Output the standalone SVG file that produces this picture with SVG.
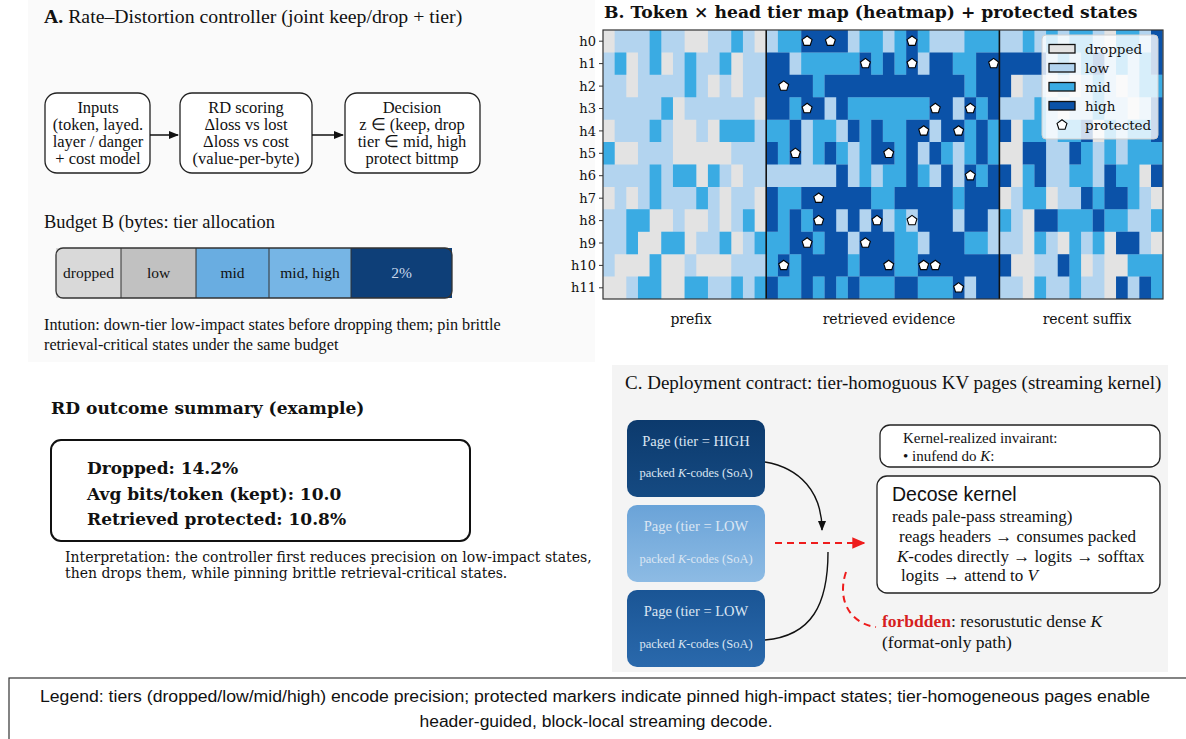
<svg xmlns="http://www.w3.org/2000/svg" xmlns:xlink="http://www.w3.org/1999/xlink" width="1186" height="739" viewBox="0 0 1186 739">
<style>
.serif{font-family:"Liberation Serif","Times New Roman",serif;fill:#111}
.dv{font-family:"DejaVu Serif",serif;fill:#111}
.sans{font-family:"Liberation Sans",Arial,sans-serif;fill:#111}
.box{fill:#fff;stroke:#222;stroke-width:1.3}
.d{fill:#e3e3e3}.l{fill:#b3d4ef}.m{fill:#3aabe3}.h{fill:#0b52a8}
.pg{font-family:"Liberation Serif","Times New Roman",serif;fill:#dbe6f3;text-anchor:middle}
</style>
<defs>
<marker id="ab" viewBox="0 0 10 10" refX="9" refY="5" markerUnits="userSpaceOnUse" markerWidth="10" markerHeight="10" orient="auto"><path d="M0,1 L10,5 L0,9 z" fill="#111"/></marker>
<marker id="ar" viewBox="0 0 10 10" refX="9" refY="5" markerUnits="userSpaceOnUse" markerWidth="13" markerHeight="13" orient="auto"><path d="M0,0.5 L10,5 L0,9.5 z" fill="#ee1c1c"/></marker>
<path id="pent" d="M0,-5.2 L4.95,-1.6 L3.06,4.2 L-3.06,4.2 L-4.95,-1.6 Z" fill="#fff" stroke="#000" stroke-width="1.1"/>
<linearGradient id="gHigh" x1="0" y1="0" x2="0" y2="1"><stop offset="0" stop-color="#0c3a6d"/><stop offset="1" stop-color="#154a82"/></linearGradient>
<linearGradient id="gLight" x1="0" y1="0" x2="0" y2="1"><stop offset="0" stop-color="#6aa3d8"/><stop offset="1" stop-color="#8dbbe4"/></linearGradient>
<linearGradient id="gDark" x1="0" y1="0" x2="0" y2="1"><stop offset="0" stop-color="#1a5595"/><stop offset="1" stop-color="#2a69ac"/></linearGradient>
</defs>
<rect width="1186" height="739" fill="#fff"/>
<rect x="28" y="0" width="567" height="362" fill="#fafafa"/>
<rect x="612" y="365" width="556" height="307" fill="#f4f4f4"/>

<!-- Panel A -->
<text class="serif" x="44" y="23" font-size="19.8"><tspan font-weight="bold">A.</tspan> Rate–Distortion controller (joint keep/drop + tier)</text>

<g id="node-inputs">
<rect class="box" x="45" y="93" width="105" height="80" rx="12"/>
<text class="serif" font-size="16.5" text-anchor="middle"><tspan x="98" y="113">Inputs</tspan><tspan x="98" y="130">(token, layed.</tspan><tspan x="98" y="147">layer / danger</tspan><tspan x="98" y="164">+ cost model</tspan></text>
</g>
<g id="node-rd">
<rect class="box" x="180" y="93" width="132" height="80" rx="12"/>
<text class="serif" font-size="16.5" text-anchor="middle"><tspan x="246" y="113">RD scoring</tspan><tspan x="246" y="130">Δloss vs lost</tspan><tspan x="246" y="147">Δloss vs cost</tspan><tspan x="246" y="164">(value-per-byte)</tspan></text>
</g>
<g id="node-decision">
<rect class="box" x="345" y="93" width="135" height="80" rx="12"/>
<text class="serif" font-size="16.5" text-anchor="middle"><tspan x="412" y="113">Decision</tspan><tspan x="412" y="130">z ∈ (keep, drop</tspan><tspan x="412" y="147">tier ∈ mid, high</tspan><tspan x="412" y="164">protect bittmp</tspan></text>
</g>
<g id="connectors-a" stroke="#111" stroke-width="1.5" fill="none">
<path d="M150 135 L178 135" marker-end="url(#ab)"/>
<path d="M312 135 L343 135" marker-end="url(#ab)"/>
</g>

<text class="serif" x="44" y="228" font-size="18.4">Budget B (bytes: tier allocation</text>
<g id="budget-bar">
<rect x="56" y="248" width="65" height="50" fill="#d9d9d9"/>
<rect x="121" y="248" width="75" height="50" fill="#c1c1c1"/>
<rect x="196" y="248" width="73" height="50" fill="#69ade1"/>
<rect x="269" y="248" width="82" height="50" fill="#76b5e5"/>
<rect x="351" y="248" width="101" height="50" fill="#0e3f78"/>
<rect x="56" y="248" width="396" height="50" rx="7" fill="none" stroke="#333" stroke-width="1.3"/>
<g stroke="#333" stroke-width="1"><line x1="121" y1="248" x2="121" y2="298"/><line x1="196" y1="248" x2="196" y2="298"/><line x1="269" y1="248" x2="269" y2="298"/><line x1="351" y1="248" x2="351" y2="298"/></g>
<g class="serif" font-size="15.5" text-anchor="middle"><text x="88.5" y="278">dropped</text><text x="158.5" y="278">low</text><text x="232.5" y="278">mid</text><text x="310" y="278">mid, high</text><text x="401.5" y="278" style="fill:#c9d8ec">2%</text></g>
</g>
<text class="serif" font-size="16.2"><tspan x="44" y="330">Intution: down-tier low-impact states before dropping them; pin brittle</tspan><tspan x="44" y="350">retrieval-critical states under the same budget</tspan></text>

<!-- RD outcome summary -->
<text class="dv" x="51" y="414" font-size="17.1" font-weight="bold">RD outcome summary (example)</text>
<g id="node-summary">
<rect x="51" y="440" width="419" height="101" rx="10" fill="#fff" stroke="#111" stroke-width="2"/>
<text class="dv" font-size="17" font-weight="bold"><tspan x="87" y="474">Dropped: 14.2%</tspan><tspan x="87" y="500">Avg bits/token (kept): 10.0</tspan><tspan x="87" y="525">Retrieved protected: 10.8%</tspan></text>
</g>
<text class="dv" font-size="14"><tspan x="65" y="562">Interpretation: the controller first reduces precision on low-impact states,</tspan><tspan x="65" y="578">then drops them, while pinning brittle retrieval-critical states.</tspan></text>

<!-- Panel B heatmap -->
<text class="dv" x="604" y="18" font-size="17.2" font-weight="bold">B. Token × head tier map (heatmap) + protected states</text>
<g id="heatmap">
<g transform="translate(603,30) scale(11.66,22.42)">
<rect class="l" width="48" height="12"/>
<path class="d" d="M0 0h1v1h-1z M7 0h2v1h-2z M13 0h1v1h-1z M43 0h1v1h-1z M2 1h1v1h-1z M5 1h1v1h-1z M11 1h1v1h-1z M2 2h1v1h-1z M9 2h1v1h-1z M11 2h1v1h-1z M35 2h1v1h-1z M38 2h1v1h-1z M40 2h1v1h-1z M44 2h1v1h-1z M6 3h1v1h-1z M13 3h1v1h-1z M39 3h1v1h-1z M45 3h1v1h-1z M0 4h1v1h-1z M6 4h2v1h-2z M9 4h1v1h-1z M35 4h1v1h-1z M42 4h1v1h-1z M1 5h2v1h-2z M6 5h5v1h-5z M34 5h2v1h-2z M8 6h1v1h-1z M11 6h1v1h-1z M35 6h1v1h-1z M46 6h1v1h-1z M0 7h1v1h-1z M2 7h1v1h-1z M10 7h1v1h-1z M13 7h1v1h-1z M34 7h1v1h-1z M38 7h1v1h-1z M47 7h1v1h-1z M4 8h2v1h-2z M7 8h2v1h-2z M10 8h1v1h-1z M13 8h1v1h-1z M36 8h1v1h-1z M3 9h2v1h-2z M7 9h1v1h-1z M11 9h1v1h-1z M36 9h1v1h-1z M39 9h1v1h-1z M43 9h1v1h-1z M47 9h1v1h-1z M1 10h3v1h-3z M5 10h2v1h-2z M8 10h3v1h-3z M35 10h2v1h-2z M41 10h1v1h-1z M43 10h2v1h-2z M0 11h2v1h-2z M5 11h2v1h-2z M36 11h1v1h-1z M43 11h1v1h-1z"/>
<path class="m" d="M4 0h1v1h-1z M11 0h1v1h-1z M15 0h2v1h-2z M22 0h2v1h-2z M25 0h1v1h-1z M27 0h1v1h-1z M31 0h3v1h-3z M36 0h1v1h-1z M38 0h1v1h-1z M40 0h2v1h-2z M44 0h2v1h-2z M1 1h1v1h-1z M4 1h1v1h-1z M7 1h1v1h-1z M10 1h1v1h-1z M17 1h5v1h-5z M23 1h1v1h-1z M25 1h1v1h-1z M30 1h2v1h-2z M39 1h1v1h-1z M41 1h1v1h-1z M44 1h1v1h-1z M46 1h1v1h-1z M7 2h1v1h-1z M18 2h1v1h-1z M31 2h1v1h-1z M42 2h1v1h-1z M46 2h2v1h-2z M5 3h1v1h-1z M16 3h1v1h-1z M21 3h7v1h-7z M32 3h1v1h-1z M37 3h1v1h-1z M42 3h1v1h-1z M4 4h1v1h-1z M10 4h3v1h-3z M14 4h2v1h-2z M18 4h2v1h-2z M22 4h1v1h-1z M24 4h2v1h-2z M31 4h1v1h-1z M33 4h1v1h-1z M36 4h2v1h-2z M39 4h2v1h-2z M43 4h1v1h-1z M45 4h2v1h-2z M0 5h1v1h-1z M15 5h1v1h-1z M18 5h1v1h-1z M20 5h1v1h-1z M22 5h1v1h-1z M25 5h1v1h-1z M29 5h1v1h-1z M31 5h1v1h-1z M33 5h1v1h-1z M41 5h1v1h-1z M43 5h1v1h-1z M45 5h3v1h-3z M4 6h1v1h-1z M6 6h2v1h-2z M9 6h1v1h-1z M22 6h1v1h-1z M24 6h2v1h-2z M27 6h1v1h-1z M32 6h1v1h-1z M36 6h1v1h-1z M40 6h2v1h-2z M44 6h2v1h-2z M4 7h1v1h-1z M8 7h1v1h-1z M15 7h2v1h-2z M23 7h2v1h-2z M30 7h1v1h-1z M36 7h2v1h-2z M42 7h1v1h-1z M45 7h1v1h-1z M2 8h2v1h-2z M12 8h1v1h-1z M15 8h1v1h-1z M17 8h1v1h-1z M25 8h1v1h-1z M34 8h1v1h-1z M39 8h3v1h-3z M43 8h2v1h-2z M47 8h1v1h-1z M2 9h1v1h-1z M5 9h2v1h-2z M10 9h1v1h-1z M13 9h3v1h-3z M18 9h1v1h-1z M25 9h2v1h-2z M31 9h2v1h-2z M37 9h1v1h-1z M40 9h1v1h-1z M42 9h1v1h-1z M4 10h1v1h-1z M14 10h1v1h-1z M16 10h1v1h-1z M21 10h1v1h-1z M25 10h2v1h-2z M40 10h1v1h-1z M45 10h3v1h-3z M3 11h2v1h-2z M7 11h2v1h-2z M11 11h1v1h-1z M13 11h1v1h-1z M15 11h2v1h-2z M18 11h1v1h-1z M20 11h1v1h-1z M22 11h3v1h-3z M27 11h3v1h-3z M37 11h1v1h-1z M40 11h1v1h-1z M47 11h1v1h-1z"/>
<path class="h" d="M17 0h4v1h-4z M26 0h1v1h-1z M47 0h1v1h-1z M14 1h2v1h-2z M22 1h1v1h-1z M24 1h1v1h-1z M26 1h1v1h-1z M28 1h2v1h-2z M32 1h6v1h-6z M42 1h1v1h-1z M47 1h1v1h-1z M14 2h4v1h-4z M19 2h12v1h-12z M32 2h3v1h-3z M14 3h2v1h-2z M17 3h2v1h-2z M20 3h1v1h-1z M28 3h2v1h-2z M31 3h1v1h-1z M33 3h1v1h-1z M47 3h1v1h-1z M16 4h1v1h-1z M21 4h1v1h-1z M23 4h1v1h-1z M26 4h2v1h-2z M29 4h2v1h-2z M32 4h1v1h-1z M34 4h1v1h-1z M41 4h1v1h-1z M47 4h1v1h-1z M14 5h1v1h-1z M16 5h1v1h-1z M19 5h1v1h-1z M23 5h2v1h-2z M26 5h1v1h-1z M28 5h1v1h-1z M32 5h1v1h-1z M36 5h2v1h-2z M40 5h1v1h-1z M20 6h1v1h-1z M26 6h1v1h-1z M29 6h1v1h-1z M31 6h1v1h-1z M33 6h2v1h-2z M37 6h1v1h-1z M43 6h1v1h-1z M47 6h1v1h-1z M14 7h1v1h-1z M17 7h6v1h-6z M25 7h5v1h-5z M31 7h3v1h-3z M41 7h1v1h-1z M43 7h2v1h-2z M14 8h1v1h-1z M16 8h1v1h-1z M18 8h2v1h-2z M21 8h1v1h-1z M23 8h1v1h-1z M27 8h3v1h-3z M31 8h2v1h-2z M37 8h2v1h-2z M42 8h1v1h-1z M16 9h2v1h-2z M19 9h2v1h-2z M22 9h3v1h-3z M28 9h3v1h-3z M44 9h2v1h-2z M15 10h1v1h-1z M17 10h4v1h-4z M22 10h3v1h-3z M27 10h8v1h-8z M39 10h1v1h-1z M14 11h1v1h-1z M17 11h1v1h-1z M19 11h1v1h-1z M21 11h1v1h-1z M25 11h2v1h-2z M30 11h1v1h-1z M32 11h2v1h-2z M44 11h1v1h-1z M46 11h1v1h-1z"/>
</g>
<g id="protected">
<use href="#pent" x="807.1" y="41.2"/><use href="#pent" x="830.4" y="41.2"/><use href="#pent" x="912" y="41.2"/>
<use href="#pent" x="865.4" y="63.6"/><use href="#pent" x="912" y="63.6"/><use href="#pent" x="993.6" y="63.6"/>
<use href="#pent" x="783.7" y="86.1"/>
<use href="#pent" x="807.1" y="108.5"/><use href="#pent" x="935.3" y="108.5"/><use href="#pent" x="970.3" y="108.5"/>
<use href="#pent" x="923.7" y="130.9"/><use href="#pent" x="958.6" y="130.9"/>
<use href="#pent" x="795.4" y="153.3"/><use href="#pent" x="888.7" y="153.3"/>
<use href="#pent" x="970.3" y="175.7"/>
<use href="#pent" x="818.7" y="198.2"/>
<use href="#pent" x="818.7" y="220.6"/><use href="#pent" x="877" y="220.6"/><use href="#pent" x="912" y="220.6"/>
<use href="#pent" x="807.1" y="243"/><use href="#pent" x="865.4" y="243"/>
<use href="#pent" x="783.7" y="265.4"/><use href="#pent" x="888.7" y="265.4"/><use href="#pent" x="923.7" y="265.4"/><use href="#pent" x="935.3" y="265.4"/>
<use href="#pent" x="958.6" y="287.8"/>
</g>
<g stroke="#111" stroke-width="1.6"><line x1="766.2" y1="30" x2="766.2" y2="299"/><line x1="999.4" y1="30" x2="999.4" y2="299"/></g>
<rect x="603" y="30" width="560" height="269" fill="none" stroke="#333" stroke-width="1.2"/>
<g stroke="#333" stroke-width="1"><path d="M599 41.2h4M599 63.6h4M599 86.1h4M599 108.5h4M599 130.9h4M599 153.3h4M599 175.7h4M599 198.2h4M599 220.6h4M599 243h4M599 265.4h4M599 287.8h4"/></g>
<g class="dv" font-size="13" text-anchor="end"><text x="596" y="45.8">h0</text><text x="596" y="68.2">h1</text><text x="596" y="90.7">h2</text><text x="596" y="113.1">h3</text><text x="596" y="135.5">h4</text><text x="596" y="157.9">h5</text><text x="596" y="180.3">h6</text><text x="596" y="202.8">h7</text><text x="596" y="225.2">h8</text><text x="596" y="247.6">h9</text><text x="596" y="270">h10</text><text x="596" y="292.4">h11</text></g>
<g class="dv" font-size="14" text-anchor="middle"><text x="691" y="324">prefix</text><text x="889" y="324">retrieved evidence</text><text x="1087" y="324">recent suffix</text></g>
<g id="legend">
<rect x="1042" y="35" width="116" height="104" rx="4" fill="#fff" fill-opacity="0.8" stroke="#d0d0d0"/>
<rect x="1049" y="44.5" width="26" height="8.5" class="d" stroke="#111" stroke-width="1.3"/>
<rect x="1049" y="63.5" width="26" height="8.5" class="l" stroke="#111" stroke-width="1.3"/>
<rect x="1049" y="82.5" width="26" height="8.5" class="m" stroke="#111" stroke-width="1.3"/>
<rect x="1049" y="101.5" width="26" height="8.5" class="h" stroke="#111" stroke-width="1.3"/>
<use href="#pent" x="1062" y="125"/>
<g class="dv" font-size="13.5"><text x="1085" y="54">dropped</text><text x="1085" y="73">low</text><text x="1085" y="92">mid</text><text x="1085" y="111">high</text><text x="1085" y="130">protected</text></g>
</g>
</g>

<!-- Panel C -->
<text class="serif" x="625" y="389" font-size="19">C. Deployment contract: tier-homoguous KV pages (streaming kernel)</text>
<g id="page-high">
<rect x="627" y="420" width="138" height="77" rx="10" fill="url(#gHigh)"/>
<text class="pg" x="696" y="446" font-size="14.5">Page (tier = HIGH</text>
<text class="pg" x="696" y="477" font-size="12.5">packed <tspan font-style="italic">K</tspan>-codes (SoA)</text>
</g>
<g id="page-low-1">
<rect x="627" y="505" width="138" height="77" rx="10" fill="url(#gLight)"/>
<text class="pg" x="696" y="531" font-size="14.5">Page (tier = LOW</text>
<text class="pg" x="696" y="563" font-size="12.5">packed <tspan font-style="italic">K</tspan>-codes (SoA)</text>
</g>
<g id="page-low-2">
<rect x="627" y="590" width="138" height="77" rx="10" fill="url(#gDark)"/>
<text class="pg" x="696" y="616" font-size="14.5">Page (tier = LOW</text>
<text class="pg" x="696" y="648" font-size="12.5">packed <tspan font-style="italic">K</tspan>-codes (SoA)</text>
</g>
<g id="node-invariant">
<rect class="box" x="880" y="425" width="280" height="42" rx="10"/>
<text class="serif" font-size="15"><tspan x="903" y="443">Kernel-realized invairant:</tspan><tspan x="903" y="461">• inufend do <tspan font-style="italic">K</tspan>:</tspan></text>
</g>
<g id="node-kernel">
<rect class="box" x="877" y="476" width="283" height="117" rx="10"/>
<text class="sans" x="892" y="501" font-size="19.5">Decose kernel</text>
<text class="serif" font-size="17"><tspan x="892" y="522">reads pale-pass streaming)</tspan><tspan x="899" y="542">reags headers → consumes packed</tspan><tspan x="897" y="562"><tspan font-style="italic">K</tspan>-codes directly → logits → sofftax</tspan><tspan x="901" y="581">logits → attend to <tspan font-style="italic">V</tspan></tspan></text>
</g>
<g id="node-forbidden">
<text class="serif" font-size="17.5"><tspan x="882" y="627"><tspan font-weight="bold" style="fill:#d61f1f">forbdden</tspan>: resorustutic dense <tspan font-style="italic">K</tspan></tspan><tspan x="882" y="648">(format-only path)</tspan></text>
</g>
<g id="connectors-c" fill="none">
<path d="M765 462 C800 468, 822 492, 822 530" stroke="#111" stroke-width="1.4" marker-end="url(#ab)"/>
<path d="M765 640 C812 636, 828 604, 828 552" stroke="#111" stroke-width="1.4"/>
<path d="M775 543 L864 543" stroke="#ee1c1c" stroke-width="2.2" stroke-dasharray="7,5" marker-end="url(#ar)"/>
<path d="M846 572 C836 602, 852 624, 876 627" stroke="#ee1c1c" stroke-width="2" stroke-dasharray="7,5"/>
</g>

<!-- Bottom legend -->
<g id="legend-note">
<rect x="9" y="678" width="1190" height="70" fill="#fff" stroke="#333" stroke-width="1.2"/>
<text class="sans" font-size="16" text-anchor="middle"><tspan x="595" y="702" textLength="1110" lengthAdjust="spacingAndGlyphs">Legend: tiers (dropped/low/mid/high) encode precision; protected markers indicate pinned high-impact states; tier-homogeneous pages enable</tspan><tspan x="596" y="727" textLength="353" lengthAdjust="spacingAndGlyphs">header-guided, block-local streaming decode.</tspan></text>
</g>
</svg>
